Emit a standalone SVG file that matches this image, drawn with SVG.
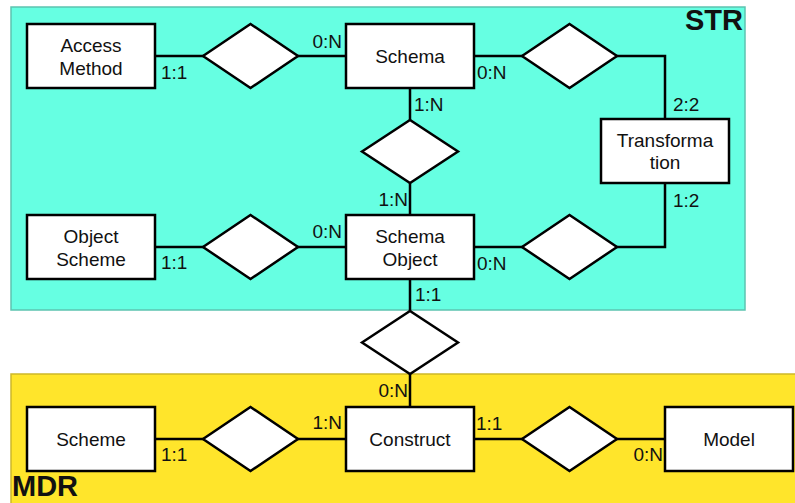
<svg xmlns="http://www.w3.org/2000/svg" width="795" height="503" viewBox="0 0 795 503">
<style>
.ent{fill:#fff;stroke:#000;stroke-width:2.5}
.rel{fill:#fff;stroke:#000;stroke-width:2.5;stroke-linejoin:miter}
.ln{fill:none;stroke:#000;stroke-width:2.5}
text{font-family:"Liberation Sans",Arial,sans-serif;fill:#111}
.nt{font-size:19px;text-anchor:middle}
.lb{font-size:19px}
.big{font-size:29px;font-weight:bold}
</style>
<rect x="11" y="7" width="734" height="303" fill="#66FFE2" stroke="#5CC4B0" stroke-width="1.5"/>
<rect x="11" y="374" width="786" height="130" fill="#FFE52B" stroke="#CDB82A" stroke-width="1.5"/>
<text class="big" x="743" y="30" text-anchor="end">STR</text>
<text class="big" x="12" y="496">MDR</text>
<g id="connectors">
<path class="ln" d="M155 56H346M474 56H617H665V119M155 247H346M474 247H617H665V183M410 88V215M410 279V407M155 439H346M474 439H665"/>
</g>
<g id="access_method"><rect class="ent" x="27" y="24" width="128" height="64"/><text class="nt" x="91" y="52">Access</text><text class="nt" x="91" y="75">Method</text></g>
<g id="schema"><rect class="ent" x="346" y="24" width="128" height="64"/><text class="nt" x="410" y="63">Schema</text></g>
<g id="transformation"><rect class="ent" x="601" y="119" width="128" height="64"/><text class="nt" x="665" y="147">Transforma</text><text class="nt" x="665" y="169">tion</text></g>
<g id="object_scheme"><rect class="ent" x="27" y="215" width="128" height="64"/><text class="nt" x="91" y="243">Object</text><text class="nt" x="91" y="266">Scheme</text></g>
<g id="schema_object"><rect class="ent" x="346" y="215" width="128" height="64"/><text class="nt" x="410" y="243">Schema</text><text class="nt" x="410" y="266">Object</text></g>
<g id="scheme"><rect class="ent" x="27" y="407" width="128" height="64"/><text class="nt" x="91" y="446">Scheme</text></g>
<g id="construct"><rect class="ent" x="346" y="407" width="128" height="64"/><text class="nt" x="410" y="446">Construct</text></g>
<g id="model"><rect class="ent" x="665" y="407" width="128" height="64"/><text class="nt" x="729" y="446">Model</text></g>
<g id="rel_access_schema"><polygon class="rel" points="203,56 250.5,24 298,56 250.5,88"/></g>
<g id="rel_schema_transf"><polygon class="rel" points="522,56 569.5,24 617,56 569.5,88"/></g>
<g id="rel_schema_sobj"><polygon class="rel" points="362,151.5 410,120 458,151.5 410,183"/></g>
<g id="rel_objscheme_sobj"><polygon class="rel" points="203,247 250.5,215 298,247 250.5,279"/></g>
<g id="rel_sobj_transf"><polygon class="rel" points="522,247 569.5,215 617,247 569.5,279"/></g>
<g id="rel_sobj_construct"><polygon class="rel" points="362,342.5 410,311 458,342.5 410,374"/></g>
<g id="rel_scheme_construct"><polygon class="rel" points="203,439 250.5,407 298,439 250.5,471"/></g>
<g id="rel_construct_model"><polygon class="rel" points="522,439 569.5,407 617,439 569.5,471"/></g>
<g id="labels">
<text class="lb" x="161" y="79">1:1</text>
<text class="lb" x="342" y="48" text-anchor="end">0:N</text>
<text class="lb" x="477" y="79">0:N</text>
<text class="lb" x="414" y="111">1:N</text>
<text class="lb" x="673" y="111">2:2</text>
<text class="lb" x="408" y="206" text-anchor="end">1:N</text>
<text class="lb" x="673" y="207">1:2</text>
<text class="lb" x="342" y="238" text-anchor="end">0:N</text>
<text class="lb" x="161" y="269">1:1</text>
<text class="lb" x="477" y="270">0:N</text>
<text class="lb" x="415" y="301">1:1</text>
<text class="lb" x="408" y="397" text-anchor="end">0:N</text>
<text class="lb" x="342" y="429" text-anchor="end">1:N</text>
<text class="lb" x="161" y="461">1:1</text>
<text class="lb" x="476" y="430">1:1</text>
<text class="lb" x="663" y="461" text-anchor="end">0:N</text>
</g>
</svg>
